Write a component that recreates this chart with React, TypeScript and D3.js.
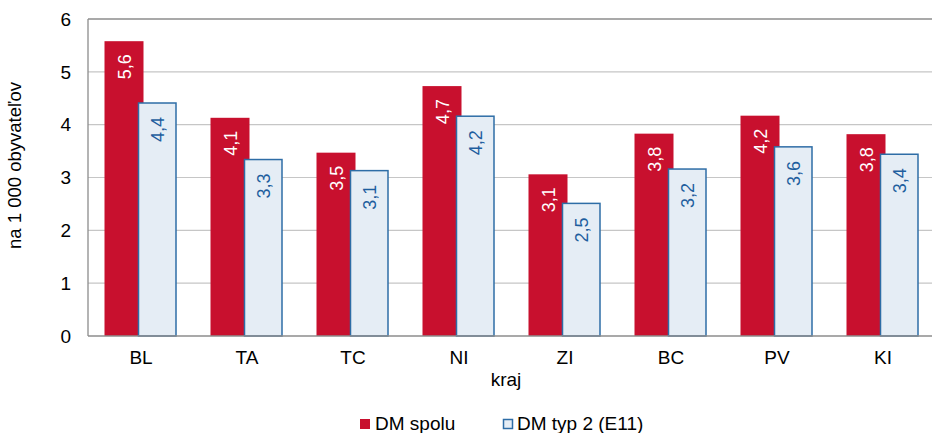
import React from "react";
import * as d3 from "d3";

const categories = ["BL", "TA", "TC", "NI", "ZI", "BC", "PV", "KI"];
const dmSpolu = [5.58, 4.13, 3.47, 4.73, 3.06, 3.83, 4.17, 3.82];
const dmTyp2 = [4.41, 3.34, 3.13, 4.16, 2.51, 3.16, 3.58, 3.44];
const yTicks = [0, 1, 2, 3, 4, 5, 6];
const seriesNames = ["DM spolu", "DM typ 2 (E11)"];

const W = 932;
const H = 433;
const left = 88;
const right = 936;
const top = 19;
const bottom = 336;

const RED = "#c8102e";
const BLUE_FILL = "#e5edf5";
const BLUE_STROKE = "#2e6da6";
const BLUE_TEXT = "#1e5e9e";
const FONT = "Arial, 'Liberation Sans', sans-serif";

const fmt = (v: number) => d3.format(".1f")(v).replace(".", ",");

export default function App() {
  const x = d3.scaleBand<string>().domain(categories).range([left, right]).paddingInner(0).paddingOuter(0);
  const y = d3.scaleLinear().domain([0, 6]).range([bottom, top]);
  const band = x.bandwidth();
  const barW = 39;
  const overlap = 5;
  const groupW = barW * 2 - overlap;

  return (
    <svg width={W} height={H} style={{ position: "absolute", left: 0, top: 0, fontFamily: FONT }}>
      <rect x={0} y={0} width={W} height={H} fill="#fff" />
      {yTicks.filter((t) => t > 0 && t < 6).map((t) => (
        <line key={t} x1={left} x2={right} y1={y(t)} y2={y(t)} stroke="#c6c6c6" strokeWidth={1.2} />
      ))}
      <line x1={left} x2={right} y1={y(6)} y2={y(6)} stroke="#8c8c8c" strokeWidth={1.3} />
      {categories.map((c, i) => {
        const cx = (x(c) as number) + band / 2;
        const rx = cx - groupW / 2;
        const bx = rx + barW - overlap;
        const ry = y(dmSpolu[i]);
        const by = y(dmTyp2[i]);
        return (
          <g key={c}>
            <rect x={rx} y={ry} width={barW} height={bottom - ry} fill={RED} />
            <rect x={bx} y={by} width={barW - 1.5} height={bottom - by} fill={BLUE_FILL} stroke={BLUE_STROKE} strokeWidth={1.5} />
            <text
              transform={`translate(${rx + barW / 2 + 6.5},${ry + 13}) rotate(-90)`}
              textAnchor="end"
              fontSize={18}
              fill="#fff"
            >
              {fmt(dmSpolu[i])}
            </text>
            <text
              transform={`translate(${bx + barW / 2 + 5.5},${by + 14}) rotate(-90)`}
              textAnchor="end"
              fontSize={18}
              fill={BLUE_TEXT}
            >
              {fmt(dmTyp2[i])}
            </text>
            <text x={cx} y={364} textAnchor="middle" fontSize={19} fill="#000">
              {c}
            </text>
          </g>
        );
      })}
      <line x1={left} x2={left} y1={top} y2={bottom} stroke="#8c8c8c" strokeWidth={1.3} />
      <line x1={left} x2={right} y1={bottom} y2={bottom} stroke="#8c8c8c" strokeWidth={1.3} />
      {yTicks.map((t) => (
        <text key={t} x={71} y={y(t) + 6.8} textAnchor="end" fontSize={19} fill="#000">
          {t}
        </text>
      ))}
      <text transform={`translate(21,${(top + bottom) / 2 - 12}) rotate(-90)`} textAnchor="middle" fontSize={18.5} fill="#000">
        na 1 000 obyvateľov
      </text>
      <text x={506} y={386} textAnchor="middle" fontSize={19} fill="#000">
        kraj
      </text>
      <rect x={360} y={419} width={10} height={10} fill={RED} />
      <text x={375} y={429.5} fontSize={19} fill="#000">{seriesNames[0]}</text>
      <rect x={503.5} y={419.5} width={9} height={9} fill={BLUE_FILL} stroke={BLUE_STROKE} strokeWidth={1.5} />
      <text x={517} y={429.5} fontSize={19} fill="#000">{seriesNames[1]}</text>
    </svg>
  );
}
